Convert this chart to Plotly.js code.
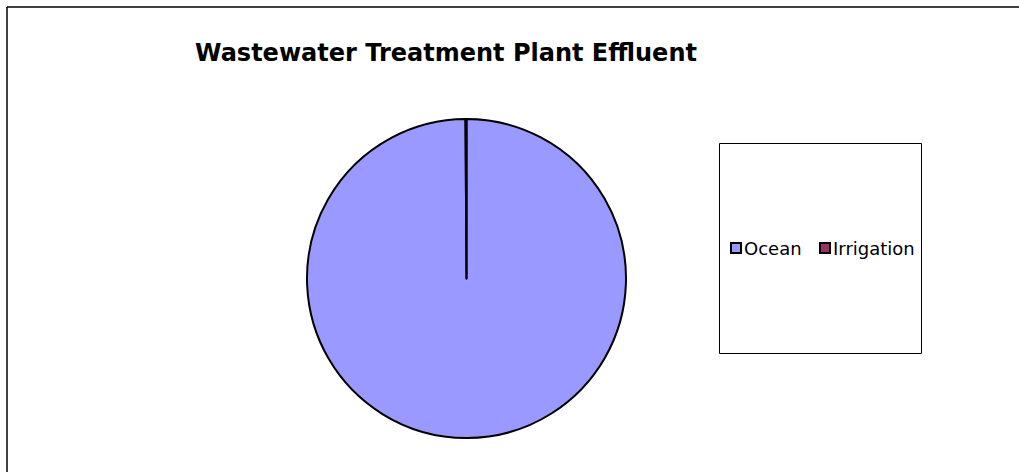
<!DOCTYPE html>
<html>
<head>
<meta charset="utf-8">
<script src="https://cdn.plot.ly/plotly-3.0.1.min.js"></script>
<style>
  html, body { margin: 0; padding: 0; background: #ffffff; }
  #chart { width: 1019px; height: 472px; }
</style>
</head>
<body>
<div id="chart"></div>
<script>
// ---- data ----
const labels = ["Ocean", "Irrigation"];
const values = [99.9, 0.1];
const colors = ["#9999FF", "#993366"];
const chartTitle = "Wastewater Treatment Plant Effluent";

// ---- layout helpers (pixel -> paper) ----
const W = 1019, H = 472;
const px = x => x / W;
const py = y => 1 - y / H;

const legendItemX = [731, 820];   // left edge of each legend swatch (px)
const legendY = 248;              // legend row centre (px)
const swatch = 10;
const FONT = "DejaVu Sans, Liberation Sans, Arial, sans-serif";

const shapes = [
  // outer chart frame (top and left visible)
  {type: "line", xref: "paper", yref: "paper", x0: px(7), x1: px(1019), y0: py(7), y1: py(7),
   line: {color: "#000000", width: 1.5}},
  {type: "line", xref: "paper", yref: "paper", x0: px(7), x1: px(7), y0: py(7), y1: py(472),
   line: {color: "#000000", width: 1.5}},
  // legend box
  {type: "rect", xref: "paper", yref: "paper", x0: px(719.5), x1: px(921.5), y0: py(143.5), y1: py(353.5),
   line: {color: "#000000", width: 1}, fillcolor: "rgba(0,0,0,0)"}
];
const annotations = [];
labels.forEach((lab, i) => {
  const x0 = legendItemX[i];
  shapes.push({type: "rect", xref: "paper", yref: "paper",
    x0: px(x0), x1: px(x0 + swatch), y0: py(legendY - swatch / 2), y1: py(legendY + swatch / 2),
    line: {color: "#000000", width: 2}, fillcolor: colors[i]});
  annotations.push({xref: "paper", yref: "paper", x: px(x0 + swatch + 1), y: py(legendY),
    xanchor: "left", yanchor: "middle", showarrow: false, text: lab,
    font: {family: FONT, size: 18, color: "#000000"}});
});

const data = [{
  type: "pie",
  labels: labels,
  values: values,
  sort: false,
  direction: "clockwise",
  rotation: 0,
  textinfo: "none",
  hoverinfo: "label+percent",
  marker: {colors: colors, line: {color: "#000000", width: 2}},
  domain: {x: [px(307), px(626)], y: [py(438), py(119)]},
  showlegend: false
}];

const layout = {
  width: W, height: H,
  margin: {l: 0, r: 0, t: 0, b: 0},
  paper_bgcolor: "#ffffff",
  plot_bgcolor: "#ffffff",
  showlegend: false,
  title: {
    text: "<b>" + chartTitle + "</b>",
    xref: "paper", yref: "paper",
    x: px(446), y: py(53), xanchor: "center", yanchor: "middle",
    font: {family: FONT, size: 24, color: "#000000"}
  },
  shapes: shapes,
  annotations: annotations
};

Plotly.newPlot("chart", data, layout, {displayModeBar: false, staticPlot: true});
</script>
</body>
</html>
